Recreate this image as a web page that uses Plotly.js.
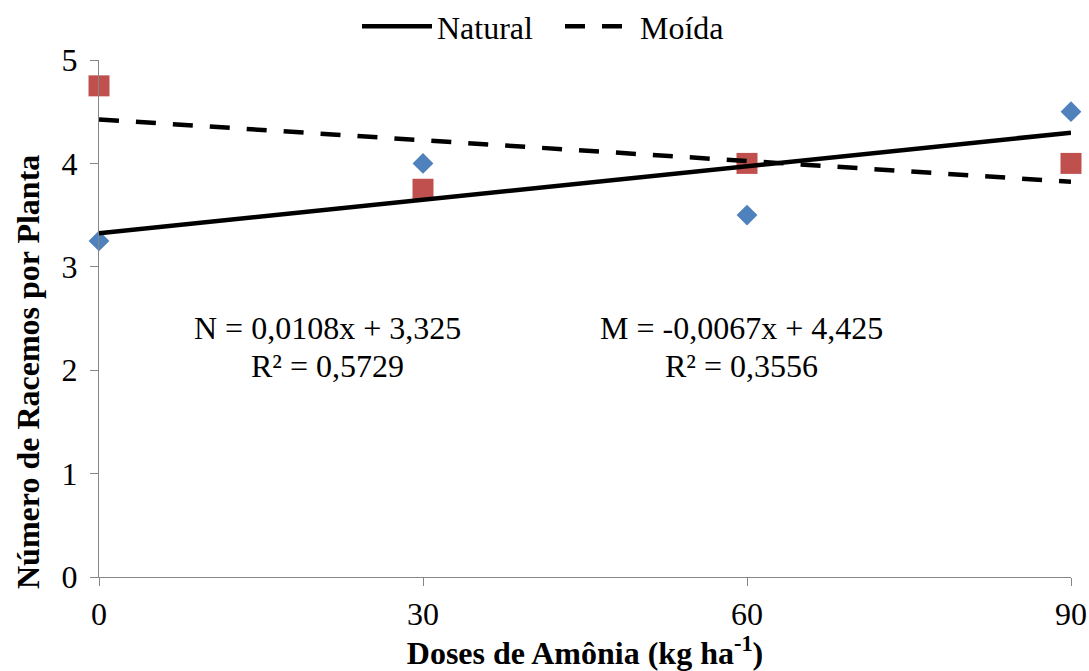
<!DOCTYPE html>
<html><head><meta charset="utf-8">
<script src="https://cdn.plot.ly/plotly-3.0.1.min.js"></script>
<style>body{margin:0;background:#fff}#chart{width:1089px;height:671px}</style>
</head><body><div id="chart"></div>
<script>
const doses = [0, 30, 60, 90];
const natural = [3.25, 4.0, 3.5, 4.5];
const moida = [4.75, 3.75, 4.0, 4.0];
const trendX = [0, 90];
const naturalTrend = [3.325, 4.297];
const moidaTrend = [4.425, 3.822];
const xTicks = [0, 30, 60, 90];
const yTicks = [0, 1, 2, 3, 4, 5];

const F = 'Liberation Serif';
const traces = [
  {x: doses, y: natural, mode: 'markers', type: 'scatter', showlegend: false, cliponaxis: false,
   marker: {symbol: 'diamond', size: 16, color: '#4f81bd'}},
  {x: doses, y: moida, mode: 'markers', type: 'scatter', showlegend: false, cliponaxis: false,
   marker: {symbol: 'square', size: 21, color: '#c0504d'}},
  {x: trendX, y: naturalTrend, mode: 'lines', type: 'scatter', name: 'Natural', cliponaxis: false,
   line: {color: '#000', width: 4.5}},
  {x: trendX, y: moidaTrend, mode: 'lines', type: 'scatter', name: 'Moída', cliponaxis: false,
   line: {color: '#000', width: 4.5, dash: '20px,17px'}}
];
const plotH = 671 - 60 - 94, plotW = 1089 - 99 - 18;
const layout = {
  width: 1089, height: 671,
  margin: {l: 99, r: 18, t: 60, b: 94, autoexpand: false},
  paper_bgcolor: '#fff', plot_bgcolor: '#fff',
  font: {family: F, size: 32, color: '#000'},
  showlegend: true,
  legend: {orientation: 'h', x: (357 - 99) / plotW, xanchor: 'left', xref: 'paper', y: 1.065, yanchor: 'middle',
           font: {family: F, size: 32}, itemwidth: 70, entrywidth: 118, traceorder: 'normal', bgcolor: 'rgba(0,0,0,0)'},
  xaxis: {range: [0, 90], tickvals: xTicks, ticktext: xTicks.map(String), showgrid: false, zeroline: false,
          showline: true, linecolor: '#868686', linewidth: 1, ticks: 'outside', ticklen: 8, tickcolor: '#868686',
          tickfont: {family: F, size: 32}, ticklabelstandoff: 1,
          title: {text: '<b>Doses de Amônia (kg ha<sup>-1</sup>)</b>', font: {family: F, size: 32}, standoff: 14}},
  yaxis: {range: [0, 5], tickvals: yTicks, showgrid: false, zeroline: false,
          showline: true, linecolor: '#868686', linewidth: 1, ticks: 'outside', ticklen: 8, tickcolor: '#868686',
          tickfont: {family: F, size: 32}, ticklabelstandoff: 6},
  annotations: [
    {x: 21.2, y: 2.41, xref: 'x', yref: 'y', text: 'N = 0,0108x + 3,325', showarrow: false, font: {family: F, size: 32}},
    {x: 21.2, y: 2.04, xref: 'x', yref: 'y', text: 'R² = 0,5729', showarrow: false, font: {family: F, size: 32}},
    {x: 59.5, y: 2.41, xref: 'x', yref: 'y', text: 'M = -0,0067x + 4,425', showarrow: false, font: {family: F, size: 32}},
    {x: 59.5, y: 2.04, xref: 'x', yref: 'y', text: 'R² = 0,3556', showarrow: false, font: {family: F, size: 32}},
    {x: (28 - 99) / plotW, y: (577 - 372) / plotH, xref: 'paper', yref: 'paper',
     text: '<b>Número de Racemos por Planta</b>', showarrow: false,
     textangle: -90, font: {family: F, size: 32}, xanchor: 'center', yanchor: 'middle'}
  ]
};
Plotly.newPlot('chart', traces, layout, {displayModeBar: false});
</script></body></html>
